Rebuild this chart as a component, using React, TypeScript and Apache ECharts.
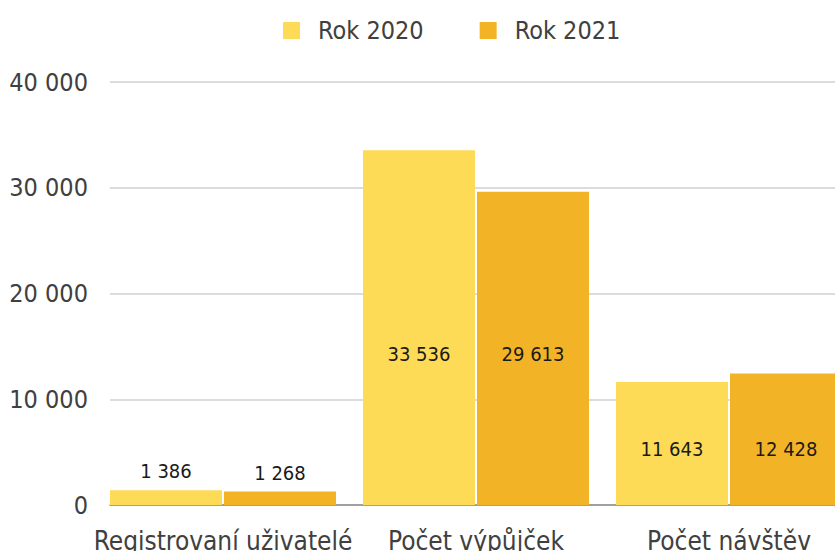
import React, { useEffect, useRef } from "react";
import * as echarts from "echarts";

const categories = ["Registrovaní uživatelé", "Počet výpůjček", "Počet návštěv"];
const seriesNames = ["Rok 2020", "Rok 2021"];
const values2020 = [1386, 33536, 11643];
const values2021 = [1268, 29613, 12428];
const yTicks = { min: 0, max: 40000, interval: 10000 };

const COLORS = ["#FDDB57", "#F3B326"];
const FONT = "'DejaVu Sans Condensed', 'Liberation Sans Narrow', 'Roboto', sans-serif";
const GRID_TOP = 82;
const GRID_BOTTOM = 46;
const H = 551;
const PLOT_H = H - GRID_TOP - GRID_BOTTOM;

const fmt = (v: number) => String(Math.round(v)).replace(/\B(?=(\d{3})+(?!\d))/g, " ");

export default function App() {
  const ref = useRef<HTMLDivElement>(null);
  useEffect(() => {
    if (!ref.current) return;
    const chart = echarts.init(ref.current, undefined, { renderer: "svg" });
    const all = [values2020, values2021];
    const pxPerUnit = PLOT_H / (yTicks.max - yTicks.min);
    const mkData = (vals: number[]) =>
      vals.map((v, i) => {
        const minCat = Math.min(values2020[i], values2021[i]);
        const small = v < 5000;
        return {
          value: v,
          label: small
            ? { position: "top", distance: 9 }
            : { position: "inside", offset: [0, ((v - minCat) / 2) * pxPerUnit + 6] },
        };
      });
    const series: any[] = all.map((vals, si) => ({
      name: seriesNames[si],
      type: "bar",
      data: mkData(vals),
      barWidth: 112,
      barGap: "1.8%",
      barCategoryGap: 0,
      itemStyle: { color: COLORS[si] },
      label: {
        show: true,
        color: "#1a1a1a",
        fontFamily: FONT,
        fontSize: 20,
        formatter: (p: any) => fmt(p.value),
      },
    }));
    series.push({
      name: "_pad",
      type: "bar",
      data: categories.map(() => null),
      barWidth: 25,
      silent: true,
      itemStyle: { color: "transparent" },
    });
    chart.setOption({
      animation: false,
      legend: {
        data: seriesNames,
        left: 278,
        top: 13,
        itemWidth: 17,
        itemHeight: 17,
        itemGap: 56,
        icon: "rect",
        textStyle: {
          fontFamily: FONT,
          fontSize: 25,
          color: "#404040",
          padding: [0, 0, 0, 13],
        },
      },
      grid: {
        left: 110,
        top: GRID_TOP,
        bottom: GRID_BOTTOM,
        right: -34,
        containLabel: false,
        outerBoundsMode: "none",
      },
      xAxis: {
        type: "category",
        data: categories,
        axisTick: { show: false },
        axisLine: { lineStyle: { color: "#8c8c8c", width: 1.5 } },
        axisLabel: {
          fontFamily: FONT,
          fontSize: 26,
          color: "#404040",
          margin: 23,
          interval: 0,
          padding: [0, 27, 0, 0],
        },
      },
      yAxis: {
        type: "value",
        min: yTicks.min,
        max: yTicks.max,
        interval: yTicks.interval,
        axisLine: { show: false },
        axisTick: { show: false },
        splitLine: { lineStyle: { color: "#d0d0d0", width: 1.5 } },
        axisLabel: {
          fontFamily: FONT,
          fontSize: 25,
          color: "#404040",
          margin: 22,
          formatter: (v: number) => fmt(v),
        },
      },
      series,
    });
    return () => chart.dispose();
  }, []);
  return <div ref={ref} style={{ width: 835, height: 551, position: "absolute", left: 0, top: 0 }} />;
}
